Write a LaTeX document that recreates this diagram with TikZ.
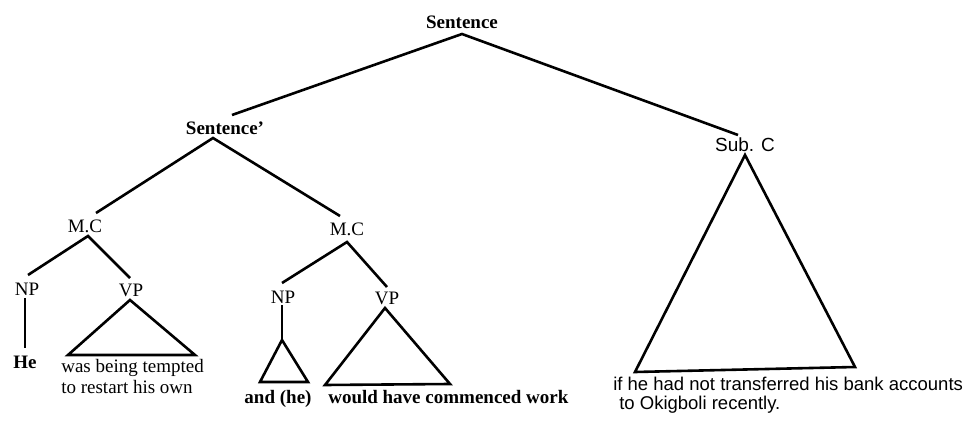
\documentclass[tikz,border=0pt]{standalone}
\usepackage{fontspec}
\setmainfont{Liberation Serif}
\newfontfamily\subfont{Liberation Sans}
\begin{document}
\begin{tikzpicture}[x=1pt,y=-1pt,line width=2.6pt,line join=miter,
  lbl/.style={inner sep=0pt,font=\fontsize{19}{21}\selectfont},
  bl/.style={lbl,font=\fontsize{19}{21}\selectfont\bfseries},
  sl/.style={inner sep=0pt,font=\fontsize{18.5}{19}\selectfont\subfont},
  edge/.style={draw=black},
  tri/.style={draw=black}]
\useasboundingbox (0,0) rectangle (966,430);
% labels
\node[bl] (s) at (462,22) {Sentence};
\node[bl] (sp) at (225,128) {Sentence'};
\node[sl,font=\fontsize{19}{21}\selectfont\subfont] (sc) at (745,145) {Sub. C};
\node[lbl] (mc1) at (85,226) {M.C};
\node[lbl] (mc2) at (347,229) {M.C};
\node[lbl] (np1) at (27,289) {NP};
\node[lbl] (vp1) at (131,290) {VP};
\node[bl,anchor=base] (he) at (25,368) {He};
\node[lbl,align=left,anchor=base west] (t1) at (60,393) {was being tempted\\to restart his own};
\node[lbl] (np2) at (283,297) {NP};
\node[lbl] (vp2) at (387,298) {VP};
\node[bl,anchor=base] (and) at (278,403) {and (he)};
\node[bl,anchor=base west] (wh) at (327,403) {would have commenced work};
\node[sl,align=left,anchor=base west] (sct) at (612,409) {if he had not transferred his bank accounts\\\hspace*{6pt}to Okigboli recently.};
% connector end points
\coordinate (sA) at (462,34);
\coordinate (spT) at (232,115);
\coordinate (scT) at (738,135);
\coordinate (spA) at (213,138);
\coordinate (mc1T) at (96,213);
\coordinate (mc2T) at (340,216);
\coordinate (mc1A) at (88,236);
\coordinate (np1T) at (28,275);
\coordinate (vp1T) at (130,278);
\coordinate (np1B) at (25,298);
\coordinate (heT) at (25,348);
\coordinate (v1a) at (130,300);
\coordinate (v1l) at (68,355);
\coordinate (v1r) at (195,355);
\coordinate (mc2A) at (347,242);
\coordinate (np2T) at (282,283);
\coordinate (vp2T) at (387,287);
\coordinate (np2B) at (282,305);
\coordinate (n2a) at (282,340);
\coordinate (n2l) at (260,382);
\coordinate (n2r) at (308,382);
\coordinate (v2a) at (385,308);
\coordinate (v2l) at (325,385);
\coordinate (v2r) at (450,384);
\coordinate (sca) at (745,155);
\coordinate (scl) at (635,372);
\coordinate (scr) at (855,367);
% connectors
\draw[edge] (spT) -- (sA) -- (scT);
\draw[edge] (mc1T) -- (spA) -- (mc2T);
\draw[edge] (np1T) -- (mc1A) -- (vp1T);
\draw[edge] (np1B) -- (heT);
\draw[edge] (np2T) -- (mc2A) -- (vp2T);
\draw[edge] (np2B) -- (n2a);
% triangles
\draw[tri] (v1a) -- (v1l) -- (v1r) -- cycle;
\draw[tri] (n2a) -- (n2l) -- (n2r) -- cycle;
\draw[tri] (v2a) -- (v2l) -- (v2r) -- cycle;
\draw[tri] (sca) -- (scl) -- (scr) -- cycle;
\end{tikzpicture}
\end{document}
